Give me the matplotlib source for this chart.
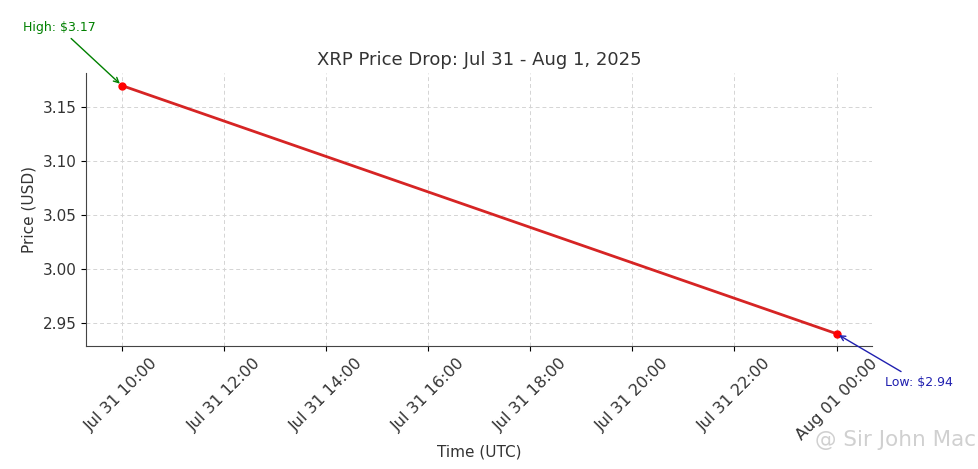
import numpy as np
import pandas as pd
import matplotlib
matplotlib.use("Agg")
import matplotlib.pyplot as plt
import matplotlib.dates as mdates

# data
times = pd.to_datetime(["2025-07-31 10:00", "2025-08-01 00:00"])
prices = [3.17, 2.94]
high_label = "High: $3.17"
low_label = "Low: $2.94"

fig, ax = plt.subplots(figsize=(9.79, 4.69), dpi=100)
fig.subplots_adjust(left=0.088, right=0.891, top=0.844, bottom=0.262)

ax.plot(times, prices, color="#d62424", linewidth=2, marker="o", markersize=5,
        markerfacecolor="red", markeredgecolor="red")

ax.annotate(high_label, xy=(times[0], prices[0]),
            xytext=(times[0] - pd.Timedelta(hours=1.23), 3.224),
            ha="center", va="center", color="green", fontsize=9,
            arrowprops=dict(arrowstyle="->", color="green", lw=1),
            annotation_clip=False)
ax.annotate(low_label, xy=(times[1], prices[1]),
            xytext=(times[1] + pd.Timedelta(hours=1.62), 2.895),
            ha="center", va="center", color="#2020b0", fontsize=9,
            arrowprops=dict(arrowstyle="->", color="#2020b0", lw=1),
            annotation_clip=False)

ax.xaxis.set_major_locator(mdates.HourLocator(byhour=range(0, 24, 2)))
ax.xaxis.set_major_formatter(mdates.DateFormatter("%b %d %H:%M"))
plt.setp(ax.get_xticklabels(), rotation=45, fontsize=11.5, color="#333333")
plt.setp(ax.get_yticklabels(), fontsize=11, color="#333333")

ax.grid(True, linestyle=(0, (4, 3)), color="#d4d4d4", linewidth=0.7)
for s in ["top", "right"]:
    ax.spines[s].set_visible(False)
for s in ["left", "bottom"]:
    ax.spines[s].set_color("#444444")

ax.set_title("XRP Price Drop: Jul 31 - Aug 1, 2025", fontsize=13, color="#333333")
ax.set_xlabel("Time (UTC)", fontsize=11, color="#333333", labelpad=1)
ax.set_ylabel("Price (USD)", fontsize=11, color="#333333")

fig.text(0.997, 0.062, "@ Sir John Mac", ha="right", va="center",
         fontsize=15.5, color="#d0d0d0")

fig.savefig("out.png", dpi=100)
